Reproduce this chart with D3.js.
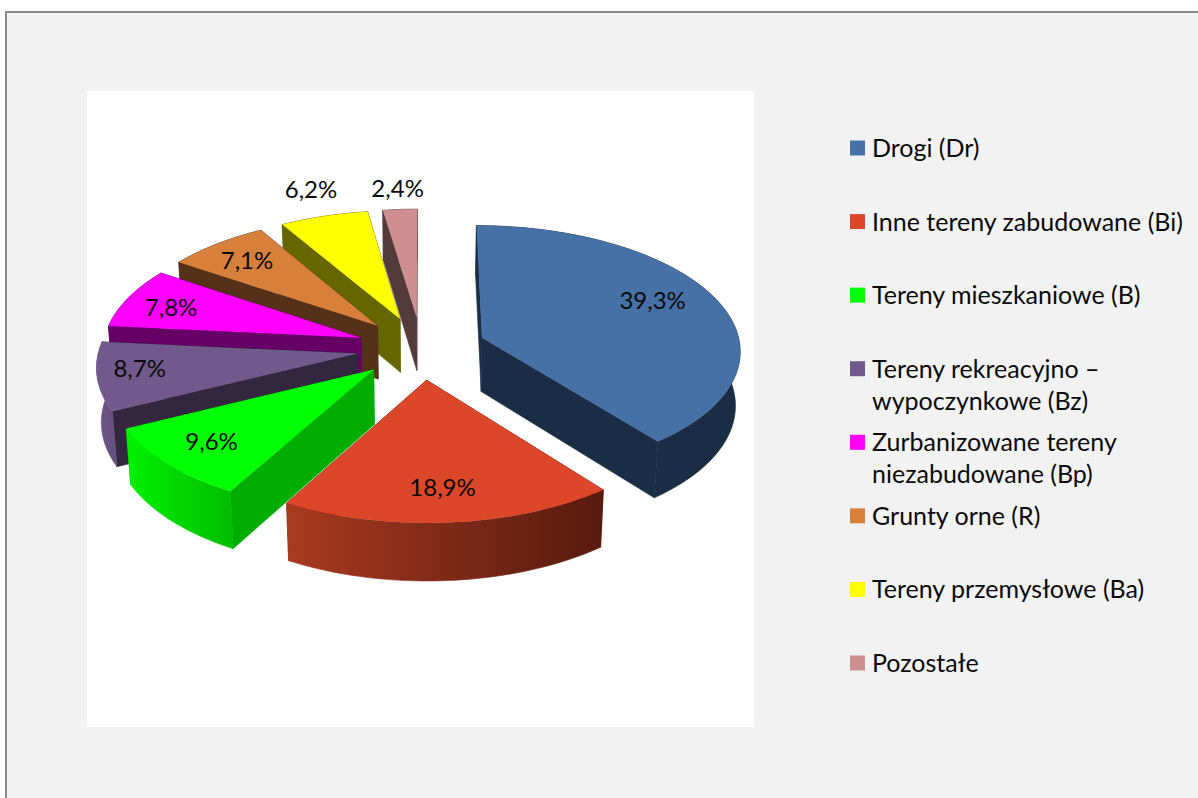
<!DOCTYPE html>
<html>
<head>
<meta charset="utf-8">
<style>
  body { margin: 0; background: #fff; }
  svg { display: block; }
  text { font-family: Lato, "Open Sans", sans-serif; fill: #0a0a0a; }
</style>
<script src="https://cdn.jsdelivr.net/npm/d3@7"></script>
</head>
<body>
<svg width="1198" height="798"></svg>
<script>
// dane
const categories = ["Drogi (Dr)", "Inne tereny zabudowane (Bi)", "Tereny mieszkaniowe (B)",
    "Tereny rekreacyjno –\nwypoczynkowe (Bz)", "Zurbanizowane tereny\nniezabudowane (Bp)",
    "Grunty orne (R)", "Tereny przemysłowe (Ba)", "Pozostałe"];
const values = [39.3, 18.9, 9.6, 8.7, 7.8, 7.1, 6.2, 2.4];
const valueLabels = ["39,3%", "18,9%", "9,6%", "8,7%", "7,8%", "7,1%", "6,2%", "2,4%"];

// kolory
const topColors = ["#4671a6", "#dc4729", "#00ff00", "#71598b", "#ff00ff", "#d6803c", "#ffff00", "#cd8f8f"];
const wallColors = ["#1a2d45", "#5a1a10", "#00ad00", "#33263f", "#660066", "#55311a", "#666600", "#533a3c"];
const curveFrom = ["#1a2d45", "#a83a20", "#00f200", "#6f578a", "#660066", "#55311a", "#666600", "#533a3c"];
const curveTo = ["#1a2d45", "#561a0f", "#00bd00", "#66507f", "#660066", "#55311a", "#666600", "#533a3c"];

// kolejnosc rysowania: od tylu do przodu
const drawOrder = [7, 6, 5, 4, 3, 2, 0, 1];

// przesuniecie etykiet wzgledem punktu na dwusiecznej
const labelRadius = [0.7, 0.62, 0.62, 0.85, 0.72, 0.62, 1.3, 1.3];
const labelNudge = [[6, -10], [2, 21], [-37, 14], [3, -6], [-21, -2], [-28, -14], [7, -1], [2, 6]];

const svg = d3.select("svg");

// tlo
svg.append("rect").attr("x", 6).attr("y", 12).attr("width", 1198).attr("height", 800)
    .attr("fill", "#f2f2f2").attr("stroke", "#8c8c8c").attr("stroke-width", 2);
svg.append("rect").attr("x", 87).attr("y", 91).attr("width", 667).attr("height", 636).attr("fill", "#fff");

// parametry rzutu
const area = { cx: 421.5, cy: 348, rx: 258.5, ry: 125.6, persp: 0.092, depth: 54, depthPersp: 0.06, shrink: 0.985, explode: 0.25 };

function project(u, v, z) {
    const s = 1 + area.persp * v;
    const xs = z ? area.shrink : 1;
    return [
        area.cx + area.rx * u * s * xs,
        area.cy + area.ry * v * s + (z ? area.depth * (1 + area.depthPersp * v) : 0)
    ];
}

const pie = d3.pie().sort(null).value(d => d);
const arcs = pie(values);
const line = d3.line();

function groundPoint(d, angle, r) {
    const mid = (d.startAngle + d.endAngle) / 2;
    return [
        area.explode * Math.sin(mid) + r * Math.sin(angle),
        -area.explode * Math.cos(mid) - r * Math.cos(angle)
    ];
}

function arcPoints(d, z) {
    const n = Math.max(6, Math.ceil((d.endAngle - d.startAngle) * 40));
    const angle = d3.scaleLinear().domain([0, n]).range([d.startAngle, d.endAngle]);
    return d3.range(n + 1).map(i => {
        const [u, v] = groundPoint(d, angle(i), 1);
        return project(u, v, z);
    });
}

// gradienty scian bocznych
const defs = svg.append("defs");
arcs.forEach((d, i) => {
    const xs = arcPoints(d, 0).map(p => p[0]);
    const g = defs.append("linearGradient").attr("id", "curve" + i)
        .attr("gradientUnits", "userSpaceOnUse")
        .attr("x1", d3.min(xs)).attr("x2", d3.max(xs)).attr("y1", 0).attr("y2", 0);
    g.append("stop").attr("offset", 0).attr("stop-color", curveFrom[i]);
    g.append("stop").attr("offset", 1).attr("stop-color", curveTo[i]);
});

// wycinki
const chart = svg.append("g");
drawOrder.forEach(i => {
    const d = arcs[i];
    const g = chart.append("g");
    const apexUV = groundPoint(d, 0, 0);
    const apexTop = project(apexUV[0], apexUV[1], 0);
    const apexBottom = project(apexUV[0], apexUV[1], 1);
    const topArc = arcPoints(d, 0);
    const bottomArc = arcPoints(d, 1);

    [0, topArc.length - 1].forEach(k => {
        g.append("path")
            .attr("d", line([apexTop, topArc[k], bottomArc[k], apexBottom]) + "Z")
            .attr("fill", wallColors[i])
            .attr("stroke", wallColors[i])
            .attr("stroke-width", 0.6);
    });
    g.append("path")
        .attr("d", line(topArc.concat(bottomArc.slice().reverse())) + "Z")
        .attr("fill", `url(#curve${i})`)
        .attr("stroke", `url(#curve${i})`)
        .attr("stroke-width", 0.6);
    g.append("path")
        .attr("d", line([apexTop].concat(topArc)) + "Z")
        .attr("fill", topColors[i]);
});

// etykiety wartosci
svg.append("g").selectAll("text")
    .data(arcs)
    .join("text")
    .attr("text-anchor", "middle")
    .attr("dominant-baseline", "central")
    .attr("font-size", 24)
    .attr("x", (d, i) => {
        const mid = (d.startAngle + d.endAngle) / 2;
        const [u, v] = groundPoint(d, mid, labelRadius[i]);
        return project(u, v, 0)[0] + labelNudge[i][0];
    })
    .attr("y", (d, i) => {
        const mid = (d.startAngle + d.endAngle) / 2;
        const [u, v] = groundPoint(d, mid, labelRadius[i]);
        return project(u, v, 0)[1] + labelNudge[i][1];
    })
    .text((d, i) => valueLabels[i]);

// legenda
const legendY = d3.scalePoint().domain(categories).range([148, 663]);
const legend = svg.append("g").selectAll("g")
    .data(categories)
    .join("g")
    .attr("transform", d => `translate(850, ${legendY(d)})`);
legend.append("rect")
    .attr("y", -7.5).attr("width", 15).attr("height", 15)
    .attr("fill", (d, i) => topColors[i]);
legend.append("text")
    .attr("font-size", 25)
    .selectAll("tspan")
    .data(d => d.split("\n"))
    .join("tspan")
    .attr("x", 22)
    .attr("y", (d, i) => 9 + i * 32)
    .text(d => d);
</script>
</body>
</html>
